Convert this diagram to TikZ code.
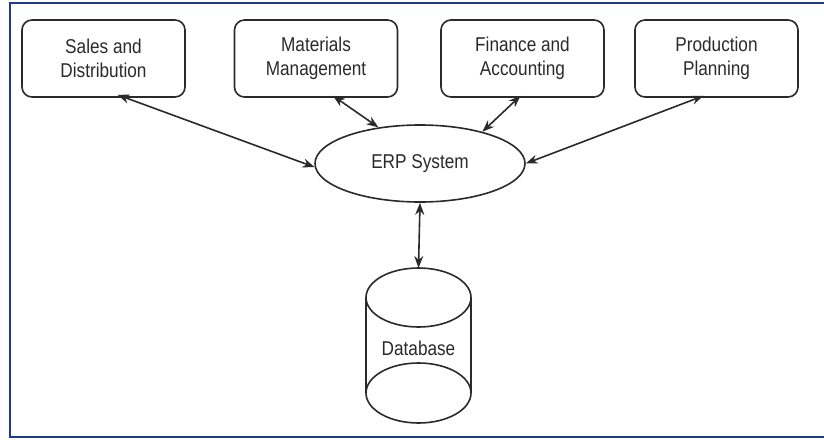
\documentclass[tikz,border=0pt]{standalone}
\usepackage{fontspec}
\setmainfont{Liberation Sans}
\newfontfamily\narrowsans[FakeStretch=0.86]{Liberation Sans}
\usetikzlibrary{shapes.geometric,arrows.meta,calc}
\definecolor{frameblue}{HTML}{1E3C82}
\definecolor{ink}{HTML}{2A2A2A}
\tikzset{
  lbl/.style={text=ink, font=\narrowsans\fontsize{20}{24}\selectfont},
  modbox/.style={lbl, draw=ink, line width=1.6pt, rounded corners=10pt, minimum width=163pt, minimum height=77pt, inner sep=0pt, align=center},
  erpnode/.style={lbl, draw=ink, line width=1.6pt, ellipse, minimum width=210pt, minimum height=77pt, inner sep=0pt},
  link/.style={draw=ink, line width=1.6pt, {Stealth[length=12pt,width=9pt]}-{Stealth[length=12pt,width=9pt]}},
}
\begin{document}
\begin{tikzpicture}[x=1pt,y=-1pt]
\useasboundingbox (0,0) rectangle (824,439);
\draw[frameblue, line width=2pt] (840,3) -- (10,3) -- (10,437) -- (840,437);
\node[modbox] (sales) at (103.5,58.5) {Sales and\\Distribution};
\node[modbox] (mat) at (316,58.5) {Materials\\Management};
\node[modbox] (fin) at (522.5,58.5) {Finance and\\Accounting};
\node[modbox] (prod) at (716.5,58.5) {Production\\Planning};
\node[erpnode] (erp) at (420,163.5) {ERP System};
% database cylinder
\draw[ink, line width=1.6pt] (418.5,297.5) ellipse [x radius=52.5, y radius=29.5];
\draw[ink, line width=1.6pt] (366,297.5) -- (366,393) arc[start angle=180, end angle=360, x radius=52.5, y radius=30] -- (471,297.5);
\draw[ink, line width=1.6pt] (366,393) arc[start angle=180, end angle=0, x radius=52.5, y radius=30];
\coordinate (dbtop) at (418.5,268);
\node[lbl] (db) at (418.5,348) {Database};
% connectors
\draw[link] ($(sales.south)+(14,-3)$) -- (erp.182);
\draw[link] ($(mat.south)+(17,-2)$) -- (erp.139);
\draw[link] ($(fin.south)+(-2,-2)$) -- (erp.27);
\draw[link] ($(prod.south)+(-13,-2)$) -- (erp.east);
\draw[link] (erp.south) -- (dbtop);
\end{tikzpicture}
\end{document}
